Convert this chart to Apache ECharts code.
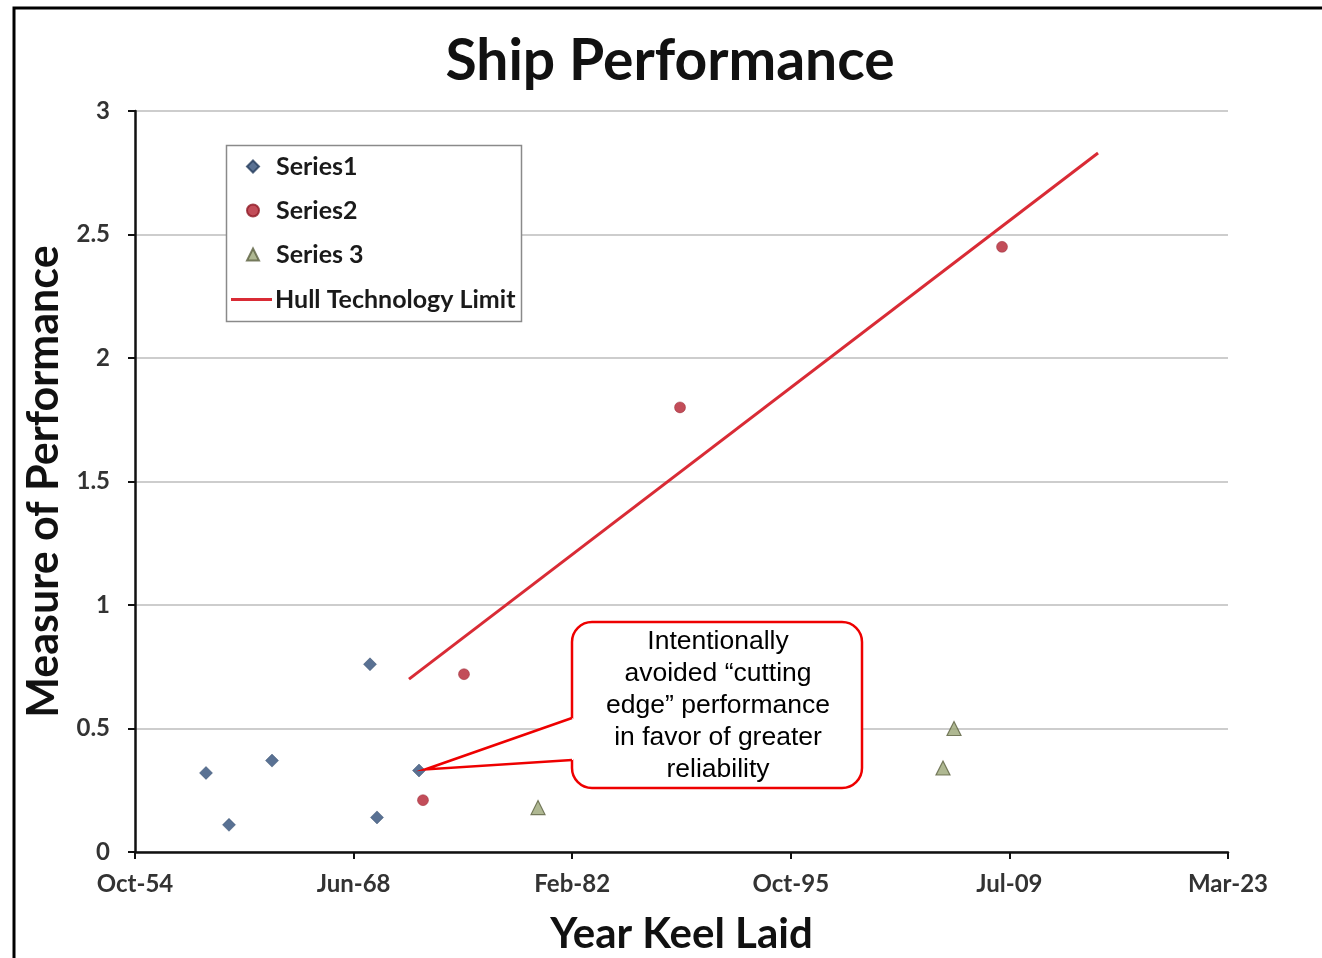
<!DOCTYPE html>
<html>
<head>
<meta charset="utf-8">
<title>Ship Performance</title>
<script src="https://cdn.jsdelivr.net/npm/echarts@6/dist/echarts.min.js"></script>
<style>
  html, body { margin: 0; padding: 0; background: #ffffff; }
  #chart { width: 1322px; height: 958px; }
</style>
</head>
<body>
<div id="chart"></div>
<script>
// Keel-laying dates and performance measures
const series1Dates = ['1959-03-15', '1960-08-22', '1963-05-03', '1969-06-21', '1969-11-28', '1972-07-16'];
const series1Values = [0.32, 0.11, 0.37, 0.76, 0.14, 0.33];

const series2Dates = ['1972-10-15', '1975-05-11', '1988-11-19', '2009-01-18'];
const series2Values = [0.21, 0.72, 1.80, 2.45];

const series3Dates = ['1979-12-29', '2005-05-09', '2006-01-16'];
const series3Values = [0.18, 0.34, 0.50];

const limitDates = ['1971-11-30', '2015-01-23'];
const limitValues = [0.70, 2.83];

const seriesNames = ['Series1', 'Series2', 'Series 3', 'Hull Technology Limit'];

// x axis runs on spreadsheet day numbers (day 20000 = Oct-54, step 5000 days)
const xMin = 20000, xMax = 45000, xStep = 5000;
const yMin = 0, yMax = 3, yStep = 0.5;

const calloutLines = ['Intentionally', 'avoided \u201ccutting', 'edge\u201d performance', 'in favor of greater', 'reliability'];
const calloutTarget = 5; // index in series1 the callout points at

const MONTHS = ['Jan','Feb','Mar','Apr','May','Jun','Jul','Aug','Sep','Oct','Nov','Dec'];

function toSerial(iso) {
  const [y, m, d] = iso.split('-').map(Number);
  return Date.UTC(y, m - 1, d) / 86400000 + 25569;
}
function serialLabel(v) {
  const dt = new Date((v - 25569) * 86400000);
  const yy = String(dt.getUTCFullYear() % 100).padStart(2, '0');
  return MONTHS[dt.getUTCMonth()] + '-' + yy;
}
function pairs(dates, values) {
  return dates.map((d, i) => [toSerial(d), values[i]]);
}

const FONT = 'Lato, "Open Sans", sans-serif';
const LEGEND_TEXT = { fontFamily: FONT, fontWeight: 'bold', fontSize: 25, lineHeight: 22, color: '#1a1a1a' };
const chart = echarts.init(document.getElementById('chart'), null, { renderer: 'canvas' });

chart.setOption({
  animation: false,
  backgroundColor: '#ffffff',
  title: {
    text: 'Ship Performance',
    left: 665, top: 28, textAlign: 'center',
    textStyle: { fontFamily: FONT, fontWeight: 'bold', fontSize: 57, color: '#111' }
  },
  grid: { left: 135, right: 94, top: 111, bottom: 106, containLabel: false, outerBoundsMode: 'none' },
  legend: [
    {
      // point series
      orient: 'vertical', left: 246, top: 154, padding: 0,
      itemWidth: 12, itemHeight: 12, itemGap: 19,
      data: seriesNames.slice(0, 3),
      textStyle: Object.assign({ padding: [0, 0, 0, 12] }, LEGEND_TEXT)
    },
    {
      // limit line
      orient: 'vertical', left: 231, top: 287, padding: 0,
      itemWidth: 41, itemHeight: 3,
      data: [{ name: seriesNames[3], icon: 'rect' }],
      textStyle: Object.assign({ padding: [0, 0, 0, -2] }, LEGEND_TEXT)
    }
  ],
  xAxis: {
    type: 'value', min: xMin, max: xMax, interval: xStep,
    name: 'Year Keel Laid', nameLocation: 'middle', nameGap: 61,
    nameTextStyle: { fontFamily: FONT, fontWeight: 'bold', fontSize: 42, color: '#111' },
    axisLine: { show: true, onZero: false, lineStyle: { color: '#111', width: 2.5 } },
    axisTick: { show: true, inside: false, length: 7, lineStyle: { color: '#111', width: 2 } },
    axisLabel: { margin: 20, formatter: serialLabel, fontFamily: FONT, fontWeight: 'bold', fontSize: 24, color: '#333' },
    splitLine: { show: false }
  },
  yAxis: {
    type: 'value', min: yMin, max: yMax, interval: yStep,
    name: 'Measure of Performance', nameLocation: 'middle', nameGap: 64,
    nameTextStyle: { fontFamily: FONT, fontWeight: 'bold', fontSize: 43, color: '#111' },
    axisLine: { show: true, lineStyle: { color: '#111', width: 2.5 } },
    axisTick: { show: true, inside: false, length: 7, lineStyle: { color: '#111', width: 2 } },
    axisLabel: { margin: 25, fontFamily: FONT, fontWeight: 'bold', fontSize: 24, color: '#333' },
    splitLine: { show: true, lineStyle: { color: '#bdbdbd', width: 1.5 } }
  },
  series: [
    {
      name: seriesNames[0], type: 'scatter', symbol: 'diamond', symbolSize: 13,
      itemStyle: { color: '#2f4e78', borderColor: '#243c5c', borderWidth: 0.5 },
      data: pairs(series1Dates, series1Values), z: 5
    },
    {
      name: seriesNames[1], type: 'scatter', symbol: 'circle', symbolSize: 11,
      itemStyle: { color: '#b3202f', borderColor: '#8e1a26', borderWidth: 0.5 },
      data: pairs(series2Dates, series2Values), z: 5
    },
    {
      name: seriesNames[2], type: 'scatter', symbol: 'triangle', symbolSize: 14,
      itemStyle: { color: '#9ba677', borderColor: '#5b6040', borderWidth: 1.2 },
      data: pairs(series3Dates, series3Values), z: 5
    },
    {
      name: seriesNames[3], type: 'line', symbol: 'none',
      lineStyle: { color: '#d92b35', width: 3 },
      itemStyle: { color: '#d92b35' },
      data: pairs(limitDates, limitValues), z: 4
    }
  ]
});

// Callout box with a pointer to the chosen Series1 point
const tip = chart.convertToPixel({ seriesIndex: 0 },
  [toSerial(series1Dates[calloutTarget]), series1Values[calloutTarget]]);
const box = { x: 572, y: 622, w: 290, h: 166, r: 20 };
const tipX = tip[0] + 6, tipY = tip[1] - 1;
const notchTop = 718, notchBottom = 760;
const CALLOUT_RED = '#ee0000';

chart.setOption({
  graphic: [
    // outer frame
    {
      type: 'rect', z: 100, silent: true,
      shape: { x: 14, y: 8, width: 1400, height: 1000 },
      style: { fill: 'none', stroke: '#000', lineWidth: 3 }
    },
    // legend frame
    {
      type: 'rect', z: 1, silent: true,
      shape: { x: 226.5, y: 145.5, width: 295, height: 176 },
      style: { fill: '#ffffff', stroke: '#8a8a8a', lineWidth: 1.5 }
    },
    // callout body
    {
      type: 'rect', z: 90, silent: true,
      shape: { x: box.x, y: box.y, width: box.w, height: box.h, r: box.r },
      style: { fill: '#ffffff', stroke: CALLOUT_RED, lineWidth: 2.5 }
    },
    // opening in the body edge where the pointer joins
    {
      type: 'rect', z: 91, silent: true,
      shape: { x: box.x - 2, y: notchTop + 1, width: 5, height: notchBottom - notchTop - 2 },
      style: { fill: '#ffffff' }
    },
    {
      type: 'polygon', z: 91, silent: true,
      shape: { points: [[box.x + 1, notchTop], [tipX, tipY], [box.x + 1, notchBottom]] },
      style: { fill: '#ffffff' }
    },
    {
      type: 'polyline', z: 92, silent: true,
      shape: { points: [[box.x, notchTop], [tipX, tipY], [box.x, notchBottom]] },
      style: { fill: 'none', stroke: CALLOUT_RED, lineWidth: 2.5, lineJoin: 'miter' }
    },
    {
      type: 'text', z: 93, silent: true,
      x: box.x + box.w / 2 + 1, y: 626,
      style: {
        text: calloutLines.join('\n'),
        font: '26.5px "Liberation Sans", Arial, sans-serif',
        lineHeight: 32, fill: '#000', align: 'center', verticalAlign: 'top'
      }
    }
  ]
});
</script>
</body>
</html>
